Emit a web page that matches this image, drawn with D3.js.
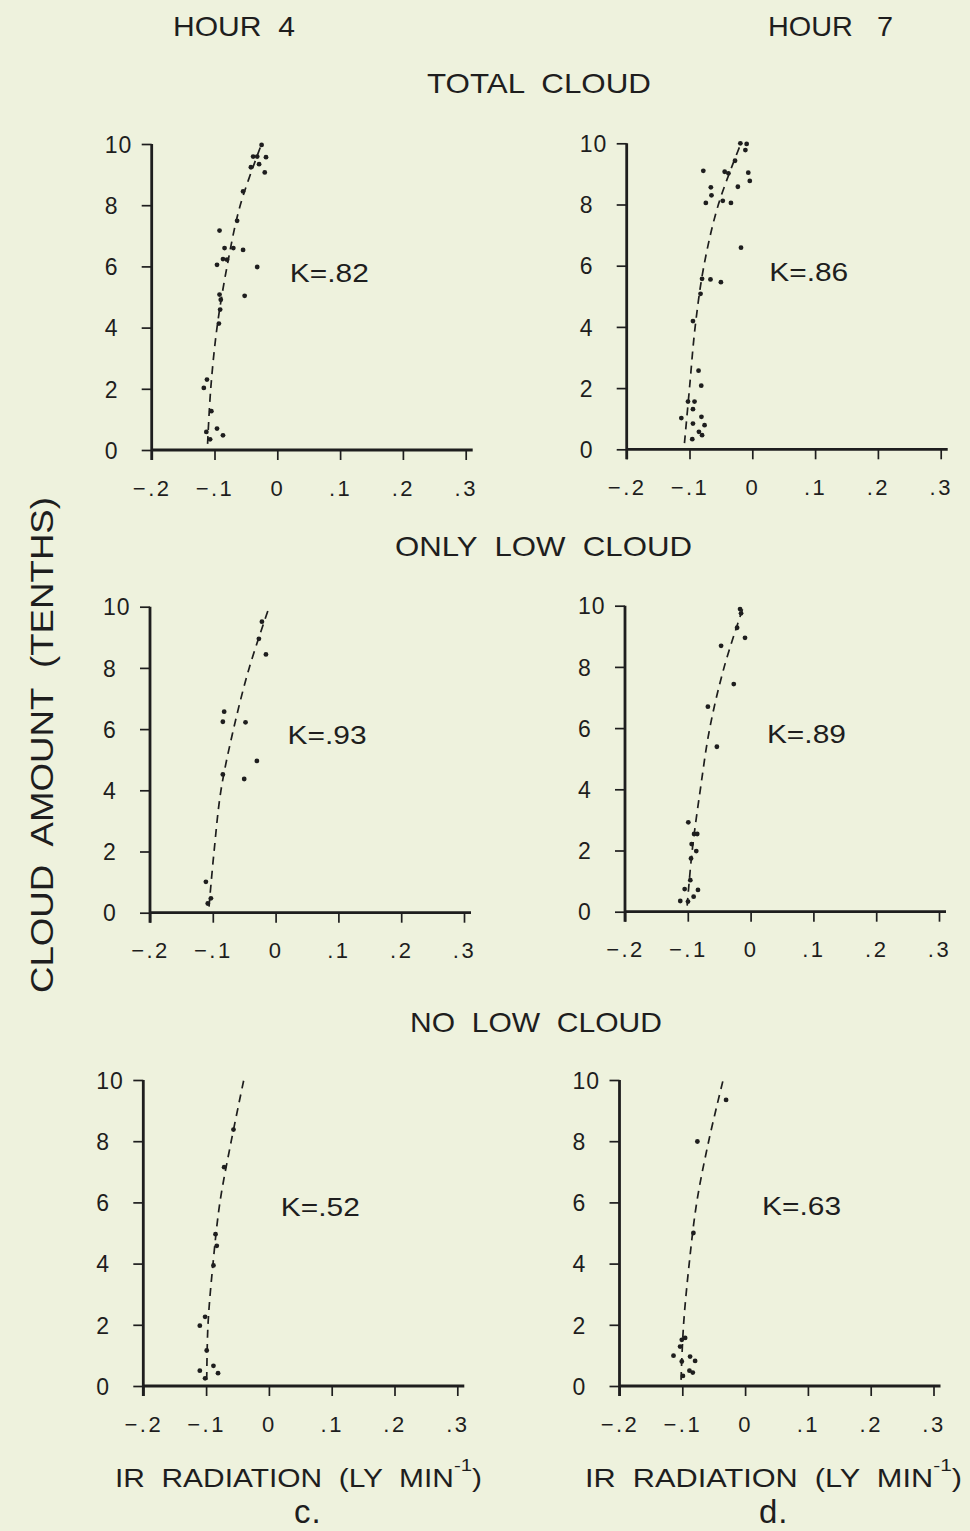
<!DOCTYPE html>
<html>
<head>
<meta charset="utf-8">
<script src="https://cdn.jsdelivr.net/npm/d3@7"></script>
<style>
  html, body { margin: 0; padding: 0; background: #eef2dd; }
  svg { display: block; }
  text { font-family: "Liberation Sans", Arial, sans-serif; fill: #1e1e1e; white-space: pre; }
</style>
</head>
<body>
<svg id="chart" width="970" height="1531"></svg>
<script>
// Axis ticks shared by all six panels
const xTicks = [-0.2, -0.1, 0, 0.1, 0.2, 0.3];
const yTicks = [0, 2, 4, 6, 8, 10];

// Hour 4, total cloud
const h4TotalX = [-0.025, -0.0385, -0.032, -0.018, -0.042, -0.029, -0.020, -0.0545, -0.064, -0.092, -0.084, -0.070, -0.0545, -0.096, -0.0865, -0.080, -0.032, -0.092, -0.090, -0.052, -0.091, -0.093, -0.112, -0.117, -0.105, -0.113, -0.107, -0.096, -0.0865];
const h4TotalY = [9.97, 9.59, 9.59, 9.57, 9.24, 9.34, 9.07, 8.45, 7.49, 7.17, 6.6, 6.6, 6.54, 6.05, 6.24, 6.22, 5.98, 5.08, 4.91, 5.04, 4.59, 4.13, 2.30, 2.03, 1.27, 0.59, 0.35, 0.70, 0.48];
// Hour 7, total cloud
const h7TotalX = [-0.019, -0.009, -0.011, -0.0275, -0.078, -0.044, -0.038, -0.0064, -0.004, -0.023, -0.066, -0.065, -0.074, -0.047, -0.034, -0.018, -0.080, -0.0666, -0.050, -0.0824, -0.0945, -0.0856, -0.0813, -0.1024, -0.092, -0.0945, -0.113, -0.081, -0.0945, -0.076, -0.085, -0.080, -0.0956];
const h7TotalY = [10.0, 9.98, 9.78, 9.43, 9.10, 9.07, 9.02, 9.04, 8.77, 8.58, 8.56, 8.30, 8.05, 8.12, 8.05, 6.59, 5.57, 5.55, 5.46, 5.08, 4.19, 2.57, 2.08, 1.56, 1.56, 1.31, 1.02, 1.06, 0.84, 0.79, 0.57, 0.46, 0.33];
// Hour 4, only low cloud
const h4LowX = [-0.0218, -0.0266, -0.0154, -0.0819, -0.084, -0.0479, -0.0298, -0.050, -0.084, -0.111, -0.103, -0.108];
const h4LowY = [9.51, 8.95, 8.44, 6.57, 6.24, 6.22, 4.96, 4.37, 4.52, 1.01, 0.47, 0.30];
// Hour 7, only low cloud
const h7LowX = [-0.0168, -0.0152, -0.0215, -0.0089, -0.047, -0.0268, -0.068, -0.0537, -0.0992, -0.090, -0.085, -0.0939, -0.0865, -0.0949, -0.096, -0.105, -0.0838, -0.0907, -0.112, -0.0997];
const h7LowY = [9.89, 9.75, 9.28, 8.95, 8.69, 7.44, 6.70, 5.39, 2.92, 2.54, 2.54, 2.21, 1.98, 1.74, 1.03, 0.74, 0.71, 0.49, 0.35, 0.33];
// Hour 4, no low cloud
const h4NoLowX = [-0.0564, -0.0713, -0.085, -0.083, -0.0883, -0.1016, -0.110, -0.099, -0.110, -0.0883, -0.081, -0.1016];
const h4NoLowY = [8.38, 7.15, 4.96, 4.58, 3.94, 2.26, 1.97, 1.16, 0.50, 0.66, 0.42, 0.25];
// Hour 7, no low cloud
const h7NoLowX = [-0.0303, -0.076, -0.0823, -0.1008, -0.0955, -0.1035, -0.114, -0.1008, -0.0876, -0.0796, -0.0886, -0.0833, -0.099];
const h7NoLowY = [9.35, 7.99, 5.0, 1.51, 1.57, 1.29, 0.99, 0.80, 0.96, 0.82, 0.50, 0.44, 0.33];

// Fitted curves (cloud amount levels and the radiation at each)
const fitY = [0.2, 2, 4, 6, 8, 10];
const fitH4Total = [-0.111, -0.106, -0.096, -0.080, -0.059, -0.025];
const fitH7Total = [-0.108, -0.100, -0.091, -0.077, -0.054, -0.018];
const fitH4Low   = [-0.106, -0.098, -0.087, -0.067, -0.042, -0.010];
const fitH7Low   = [-0.101, -0.093, -0.080, -0.065, -0.042, -0.011];
const fitH4NoLow = [-0.099, -0.097, -0.089, -0.078, -0.060, -0.040];
const fitH7NoLow = [-0.102, -0.098, -0.089, -0.077, -0.058, -0.035];

// Correlation labels
const kLabels = ["K=.82", "K=.86", "K=.93", "K=.89", "K=.52", "K=.63"];

const svg = d3.select("#chart");
svg.append("rect").attr("width", 970).attr("height", 1531).attr("fill", "#eef2dd");

const ink = "#1e1e1e";
const pw = 314, ph = 306;

const panels = [
  { left: 151.7, top: 144.0, xs: h4TotalX, ys: h4TotalY, fit: fitH4Total, k: kLabels[0], kx: 0.020, ky: 5.5 },
  { left: 626.7, top: 143.3, xs: h7TotalX, ys: h7TotalY, fit: fitH7Total, k: kLabels[1], kx: 0.027, ky: 5.5 },
  { left: 150.0, top: 606.7, xs: h4LowX,   ys: h4LowY,   fit: fitH4Low,   k: kLabels[2], kx: 0.019, ky: 5.5 },
  { left: 625.0, top: 605.7, xs: h7LowX,   ys: h7LowY,   fit: fitH7Low,   k: kLabels[3], kx: 0.026, ky: 5.5 },
  { left: 143.3, top: 1080,  xs: h4NoLowX, ys: h4NoLowY, fit: fitH4NoLow, k: kLabels[4], kx: 0.019, ky: 5.55 },
  { left: 619.5, top: 1080,  xs: h7NoLowX, ys: h7NoLowY, fit: fitH7NoLow, k: kLabels[5], kx: 0.027, ky: 5.6 }
];

const fmtX = d => d === 0 ? "0" : d3.format(".1f")(d).replace("0.", ".");

panels.forEach(p => {
  const x = d3.scaleLinear().domain([-0.2, 0.3]).range([0, pw]);
  const y = d3.scaleLinear().domain([0, 10]).range([ph, 0]);
  const g = svg.append("g").attr("transform", `translate(${p.left},${p.top})`);

  // x axis
  const gx = g.append("g").attr("transform", `translate(0,${ph})`)
    .call(d3.axisBottom(x).tickValues(xTicks).tickFormat(fmtX).tickSize(10).tickSizeOuter(0).tickPadding(20));
  gx.select(".domain").attr("stroke", ink).attr("stroke-width", 2.8)
    .attr("d", `M${x(-0.2)},0H${x(0.3) + 7}`);
  gx.selectAll(".tick line").attr("stroke", ink).attr("stroke-width", 1.7);
  gx.selectAll(".tick text").attr("fill", ink).style("font-size", "22px").style("letter-spacing", "2.5px");

  // y axis
  const gy = g.append("g")
    .call(d3.axisLeft(y).tickValues(yTicks).tickSize(10).tickSizeOuter(0));
  gy.select(".domain").attr("stroke", ink).attr("stroke-width", 2.8)
    .attr("d", `M0,${y(10)}V${y(0) + 10}`);
  gy.selectAll(".tick line").attr("stroke", ink).attr("stroke-width", 1.7);
  gy.selectAll(".tick text").attr("fill", ink).attr("x", -47).attr("text-anchor", "start")
    .attr("dy", "0.36em").style("font-size", "23px").style("letter-spacing", "1px");

  // dashed fitted curve
  const line = d3.line().x(d => x(d[0])).y(d => y(d[1])).curve(d3.curveCatmullRom);
  g.append("path")
    .datum(p.fit.map((v, i) => [v, fitY[i]]))
    .attr("d", line)
    .attr("fill", "none").attr("stroke", ink).attr("stroke-width", 1.7)
    .attr("stroke-dasharray", "8,6");

  // observations
  g.selectAll("circle.obs")
    .data(p.xs.map((v, i) => [v, p.ys[i]]))
    .join("circle").attr("class", "obs")
    .attr("cx", d => x(d[0])).attr("cy", d => y(d[1]))
    .attr("r", 2.4).attr("fill", ink);

  // correlation label
  g.append("text").attr("x", x(p.kx)).attr("y", y(p.ky))
    .attr("textLength", 79).attr("lengthAdjust", "spacingAndGlyphs")
    .style("font-size", "25px").text(p.k);
});

// Column and row headings
const headings = [
  { t: "HOUR  4", x: 173, y: 36, len: 122 },
  { t: "HOUR   7", x: 768, y: 36, len: 125 },
  { t: "TOTAL  CLOUD", x: 427, y: 93, len: 224 },
  { t: "ONLY  LOW  CLOUD", x: 395, y: 556, len: 297 },
  { t: "NO  LOW  CLOUD", x: 410, y: 1032, len: 252 }
];
headings.forEach(h => {
  svg.append("text").attr("x", h.x).attr("y", h.y)
    .attr("textLength", h.len).attr("lengthAdjust", "spacingAndGlyphs")
    .style("font-size", "28px").text(h.t);
});

// Shared y axis title
svg.append("text")
  .attr("transform", "translate(53,745) rotate(-90)")
  .attr("text-anchor", "middle")
  .attr("textLength", 496).attr("lengthAdjust", "spacingAndGlyphs")
  .style("font-size", "31px").text("CLOUD  AMOUNT  (TENTHS)");

// x axis titles and column letters
[{ x: 115, len: 367, letter: "c.", lx: 294 }, { x: 585, len: 377, letter: "d.", lx: 759 }].forEach(c => {
  const t = svg.append("text").attr("x", c.x).attr("y", 1487).style("font-size", "25px")
    .attr("textLength", c.len).attr("lengthAdjust", "spacingAndGlyphs");
  t.append("tspan").text("IR  RADIATION  (LY  MIN");
  t.append("tspan").attr("dy", -16).style("font-size", "17px").text("-1");
  t.append("tspan").attr("dy", 16).text(")");
  svg.append("text").attr("x", c.lx).attr("y", 1523).style("font-size", "33px")
    .style("letter-spacing", "1px").text(c.letter);
});
</script>
</body>
</html>
